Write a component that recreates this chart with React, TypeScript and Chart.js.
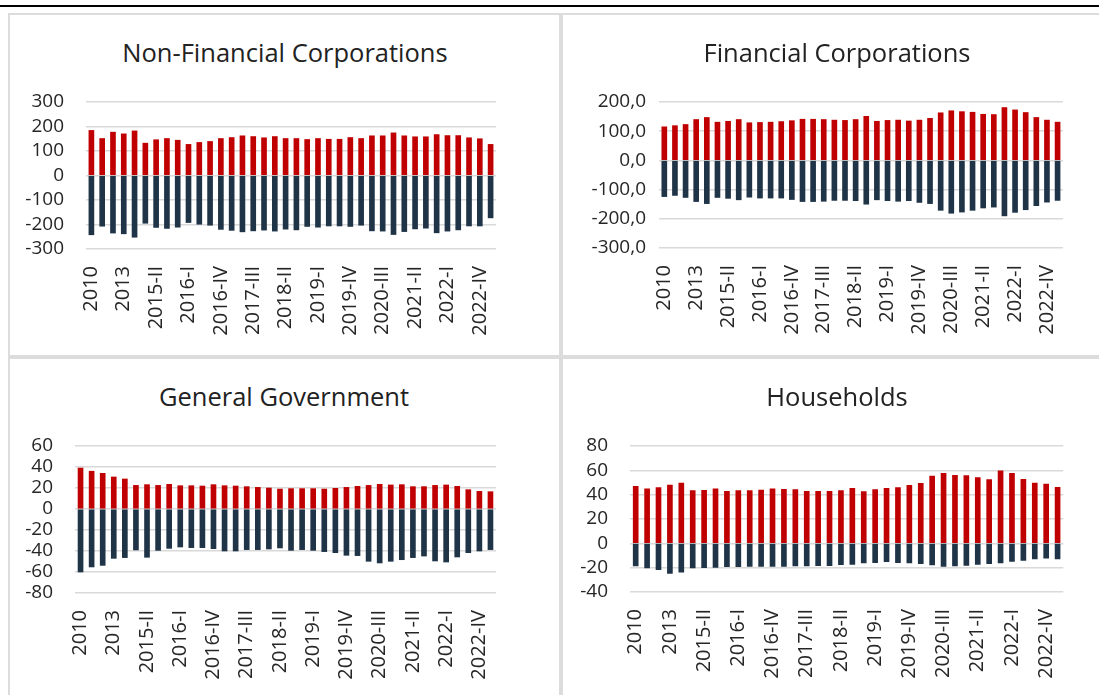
import React, { useEffect, useRef } from 'react';
import { Chart, registerables } from 'chart.js';
Chart.register(...registerables);

const categories = [
  '2010', '2011', '2012', '2013', '2014',
  '2015-I', '2015-II', '2015-III', '2015-IV',
  '2016-I', '2016-II', '2016-III', '2016-IV',
  '2017-I', '2017-II', '2017-III', '2017-IV',
  '2018-I', '2018-II', '2018-III', '2018-IV',
  '2019-I', '2019-II', '2019-III', '2019-IV',
  '2020-I', '2020-II', '2020-III', '2020-IV',
  '2021-I', '2021-II', '2021-III', '2021-IV',
  '2022-I', '2022-II', '2022-III', '2022-IV',
  '2023-I',
];

const nfcPos = [184, 151, 177, 170, 182, 132, 146, 151, 144, 127, 135, 139, 151, 155, 162, 159, 154, 159, 151, 151, 147, 151, 148, 148, 155, 151, 162, 162, 174, 162, 158, 158, 167, 163, 163, 154, 150, 127];
const nfcNeg = [-242, -207, -235, -238, -252, -195, -212, -216, -211, -192, -199, -203, -220, -224, -230, -226, -223, -227, -219, -222, -208, -211, -206, -206, -208, -203, -226, -227, -241, -229, -218, -215, -234, -227, -222, -206, -206, -173];

const fcPos = [115, 119, 123, 140, 147, 131, 134, 140, 129, 130, 131, 133, 136, 141, 141, 140, 138, 137, 140, 151, 134, 137, 138, 135, 138, 144, 163, 170, 167, 165, 158, 157, 181, 173, 164, 147, 138, 131];
const fcNeg = [-124, -120, -127, -141, -148, -127, -130, -135, -126, -129, -129, -129, -134, -141, -141, -140, -137, -137, -138, -150, -135, -138, -140, -138, -144, -148, -171, -181, -177, -171, -163, -160, -190, -178, -169, -155, -143, -137];

const ggPos = [39, 36, 34, 30.5, 28.6, 22.5, 23.2, 22.5, 23.5, 22.2, 22.2, 21.9, 23.2, 22.2, 21.9, 21.3, 20.6, 20, 19, 19.4, 19.4, 19.4, 19, 19.7, 20.6, 21.6, 22.5, 23.5, 22.9, 23.2, 21.3, 21.3, 22.5, 22.9, 21.6, 18.4, 16.8, 16.5];
const ggNeg = [-60, -55.2, -53.7, -47, -46.3, -39, -46, -39.4, -37.5, -36.2, -36.8, -36.8, -37.8, -40, -40, -38.7, -38.7, -38.1, -37.1, -39.4, -38.7, -39.4, -40.6, -41.6, -44.1, -44.4, -49.8, -51.4, -49.8, -48.3, -46.3, -44.8, -49.5, -50.5, -45.7, -41.6, -40, -38.7];

const hhPos = [46.8, 44.9, 45.8, 47.9, 49.6, 43.3, 43.6, 44.7, 42.7, 43.3, 43.3, 43.8, 44.7, 44.4, 44.1, 42.7, 42.7, 42.7, 43.3, 45.2, 42.5, 44.1, 45.2, 45.8, 47.7, 49.3, 55.3, 57.5, 55.9, 55.6, 54, 52.3, 59.5, 57.5, 52.6, 49.6, 48.8, 46];
const hhNeg = [-18.6, -20.3, -21.6, -24.7, -23.8, -20.3, -20, -19.7, -19.2, -19.2, -18.9, -18.9, -18.9, -18.9, -18.6, -18.6, -18.4, -18.4, -17.5, -17.3, -16.2, -15.9, -15.1, -15.9, -16.2, -16.7, -17.8, -18.9, -18.6, -18.1, -17.3, -16.7, -16.2, -14.8, -14, -12.9, -12.1, -12.9];

const titles = ['Non-Financial Corporations', 'Financial Corporations', 'General Government', 'Households'];

const RED = '#C00000';
const NAVY = '#203448';
const GRID = '#d9d9d9';
const FONT = "'Open Sans', sans-serif";

type PanelCfg = {
  title: string;
  pos: number[];
  neg: number[];
  min: number;
  max: number;
  step: number;
  decimals: boolean;
  left: number; top: number; width: number; height: number;
  plotLeft: number; plotRight: number; plotTop: number; plotBottom: number;
  labelGap: number;
  titleX: number; titleTop: number;
};

function Panel({ cfg }: { cfg: PanelCfg }) {
  const ref = useRef<HTMLCanvasElement | null>(null);
  useEffect(() => {
    if (!ref.current) return;
    const padLeft = 2;
    const yW = cfg.plotLeft - cfg.left - padLeft;
    const xH = 100;
    const padRight = cfg.left + cfg.width - cfg.plotRight;
    const padTop = cfg.plotTop - cfg.top;
    const padBottom = cfg.top + cfg.height - cfg.plotBottom - xH;
    const chart = new Chart(ref.current, {
      type: 'bar',
      data: {
        labels: categories,
        datasets: [
          { data: cfg.pos, backgroundColor: RED, barThickness: 5 },
          { data: cfg.neg, backgroundColor: NAVY, barThickness: 5 },
        ],
      },
      options: {
        animation: false,
        responsive: false,
        devicePixelRatio: 1,
        layout: { padding: { left: padLeft, right: padRight, top: padTop, bottom: padBottom } },
        plugins: { legend: { display: false }, title: { display: false }, tooltip: { enabled: false } },
        scales: {
          x: {
            stacked: true,
            grid: { display: false, drawTicks: false },
            border: { display: false },
            afterFit: (s: any) => { s.height = xH; },
            ticks: {
              autoSkip: false,
              maxRotation: 90,
              minRotation: 90,
              padding: 17,
              color: '#262626',
              font: { family: FONT, size: 20 },
              callback: (_v: any, i: number) => (i % 3 === 0 ? categories[i] : ''),
            },
          },
          y: {
            stacked: true,
            min: cfg.min,
            max: cfg.max,
            grid: { color: GRID, lineWidth: 1.5, drawTicks: false },
            border: { display: false },
            afterFit: (s: any) => { s.width = yW; },
            ticks: {
              autoSkip: false,
              stepSize: cfg.step,
              padding: cfg.labelGap,
              color: '#262626',
              font: { family: FONT, size: 19 },
              callback: (v: any) => (cfg.decimals ? Number(v).toFixed(1).replace('.', ',') : String(v)),
            },
          },
        },
      },
    });
    return () => chart.destroy();
  }, []);
  return (
    <>
      <div
        style={{
          position: 'absolute',
          left: cfg.titleX - 300,
          width: 600,
          top: cfg.titleTop,
          lineHeight: '34px',
          textAlign: 'center',
          fontFamily: FONT,
          fontSize: 25.5,
          color: '#222',
          whiteSpace: 'nowrap',
        }}
      >
        {cfg.title}
      </div>
      <canvas
        ref={ref}
        width={cfg.width}
        height={cfg.height}
        style={{ position: 'absolute', left: cfg.left, top: cfg.top, width: cfg.width, height: cfg.height }}
      />
    </>
  );
}

const panels: PanelCfg[] = [
  {
    title: titles[0], pos: nfcPos, neg: nfcNeg, min: -300, max: 300, step: 100, decimals: false,
    left: 10, top: 60, width: 549, height: 294,
    plotLeft: 86, plotRight: 496, plotTop: 102, plotBottom: 249, labelGap: 22,
    titleX: 285, titleTop: 35,
  },
  {
    title: titles[1], pos: fcPos, neg: fcNeg, min: -300, max: 200, step: 100, decimals: true,
    left: 563, top: 60, width: 536, height: 294,
    plotLeft: 659, plotRight: 1067, plotTop: 102, plotBottom: 248, labelGap: 13,
    titleX: 837, titleTop: 35,
  },
  {
    title: titles[2], pos: ggPos, neg: ggNeg, min: -80, max: 60, step: 20, decimals: false,
    left: 10, top: 404, width: 549, height: 291,
    plotLeft: 75, plotRight: 496, plotTop: 446, plotBottom: 593, labelGap: 22,
    titleX: 284, titleTop: 379,
  },
  {
    title: titles[3], pos: hhPos, neg: hhNeg, min: -40, max: 80, step: 20, decimals: false,
    left: 563, top: 404, width: 536, height: 291,
    plotLeft: 630, plotRight: 1067, plotTop: 446, plotBottom: 592, labelGap: 22,
    titleX: 837, titleTop: 379,
  },
];

export default function App() {
  const line = (l: number, t: number, w: number, h: number, c: string) => (
    <div style={{ position: 'absolute', left: l, top: t, width: w, height: h, background: c }} />
  );
  return (
    <div style={{ position: 'fixed', left: 0, top: 0, width: 1099, height: 695, background: '#fff', overflow: 'hidden' }}>
      {line(0, 5, 1099, 2, '#000')}
      {line(8, 13, 1091, 2, '#dcdcdc')}
      {line(8, 13, 2, 682, '#dcdcdc')}
      {line(559, 13, 4, 682, '#dcdcdc')}
      {line(8, 355, 1091, 4, '#dcdcdc')}
      {panels.map((p, i) => (
        <Panel key={i} cfg={p} />
      ))}
    </div>
  );
}
